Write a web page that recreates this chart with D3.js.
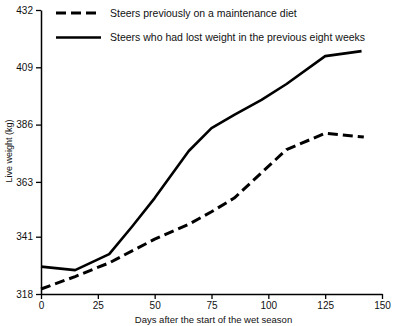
<!DOCTYPE html>
<html>
<head>
<meta charset="utf-8">
<script src="https://cdn.jsdelivr.net/npm/d3@7"></script>
<style>
  body { margin: 0; background: #fff; }
  svg { font-family: "Liberation Sans", Arial, sans-serif; }
</style>
</head>
<body>
<div id="chart"></div>
<script>
// data
const xTicks = [0, 25, 50, 75, 100, 125, 150];
const yTicks = [318, 341, 363, 386, 409, 432];

const maintenanceDays = [0, 15, 30, 50, 65, 75, 85, 108, 125, 142];
const maintenanceKg   = [320, 325, 330.5, 340, 346, 351, 356.5, 376, 382.5, 381];

const lostDays = [0, 15, 30, 40, 50, 65, 75, 85, 97, 108, 125, 141];
const lostKg   = [329, 327.6, 334, 345, 356.5, 375.4, 384.6, 389.9, 395.9, 402.3, 413.5, 415.5];

const legendLabels = [
  "Steers previously on a maintenance diet",
  "Steers who had lost weight in the previous eight weeks"
];

const W = 393, H = 326;
const margin = {top: 10, right: 11, bottom: 32, left: 41};
const width = W - margin.left - margin.right;
const height = H - margin.top - margin.bottom;

const svg = d3.select("#chart")
  .append("svg")
  .attr("width", W)
  .attr("height", H);

const g = svg.append("g")
  .attr("transform", "translate(" + margin.left + "," + margin.top + ")");

const x = d3.scaleLinear().domain([0, 150]).range([0, width]);
const y = d3.scaleLinear().domain([318, 432]).range([height, 0]);

// axes
const xAxis = g.append("g")
  .attr("transform", "translate(0," + height + ")")
  .call(d3.axisBottom(x).tickValues(xTicks).tickSize(5).tickSizeOuter(0).tickPadding(3));

const yAxis = g.append("g")
  .call(d3.axisLeft(y).tickValues(yTicks).tickSize(5).tickSizeOuter(0).tickPadding(3));

[xAxis, yAxis].forEach(a => {
  a.select(".domain").attr("stroke", "#000").attr("stroke-width", 1.5);
  a.selectAll(".tick line").attr("stroke", "#000").attr("stroke-width", 1.3);
  a.selectAll(".tick text")
    .attr("fill", "#111")
    .style("font-size", "10px")
    .style("font-family", "'Liberation Sans', Arial, sans-serif");
});

// axis titles
g.append("text")
  .attr("x", width / 2 + 2)
  .attr("y", height + 29)
  .attr("text-anchor", "middle")
  .style("font-size", "9.5px")
  .attr("fill", "#111")
  .text("Days after the start of the wet season");

svg.append("text")
  .attr("transform", "rotate(-90)")
  .attr("x", -151)
  .attr("y", 12)
  .attr("text-anchor", "middle")
  .style("font-size", "9px")
  .attr("fill", "#111")
  .text("Live weight (kg)");

// lines
const line = d3.line()
  .x(d => x(d[0]))
  .y(d => y(d[1]));

const maintenance = maintenanceDays.map((d, i) => [d, maintenanceKg[i]]);
const lost = lostDays.map((d, i) => [d, lostKg[i]]);

g.append("path")
  .datum(maintenance)
  .attr("fill", "none")
  .attr("stroke", "#000")
  .attr("stroke-width", 3)
  .attr("stroke-dasharray", "10,5")
  .attr("stroke-linejoin", "round")
  .attr("d", line);

g.append("path")
  .datum(lost)
  .attr("fill", "none")
  .attr("stroke", "#000")
  .attr("stroke-width", 2.6)
  .attr("stroke-linejoin", "round")
  .attr("d", line);

// legend
const legend = svg.append("g").attr("transform", "translate(56,13)");
legendLabels.forEach((lab, i) => {
  const row = legend.append("g").attr("transform", "translate(0," + (i * 24.5) + ")");
  row.append("line")
    .attr("x1", 0).attr("x2", 45)
    .attr("y1", 0).attr("y2", 0)
    .attr("stroke", "#000")
    .attr("stroke-width", i === 0 ? 3 : 2.6)
    .attr("stroke-dasharray", i === 0 ? "10,5" : null);
  row.append("text")
    .attr("x", 54)
    .attr("y", 3.5)
    .style("font-size", "10.5px")
    .attr("fill", "#111")
    .text(lab);
});
</script>
</body>
</html>
